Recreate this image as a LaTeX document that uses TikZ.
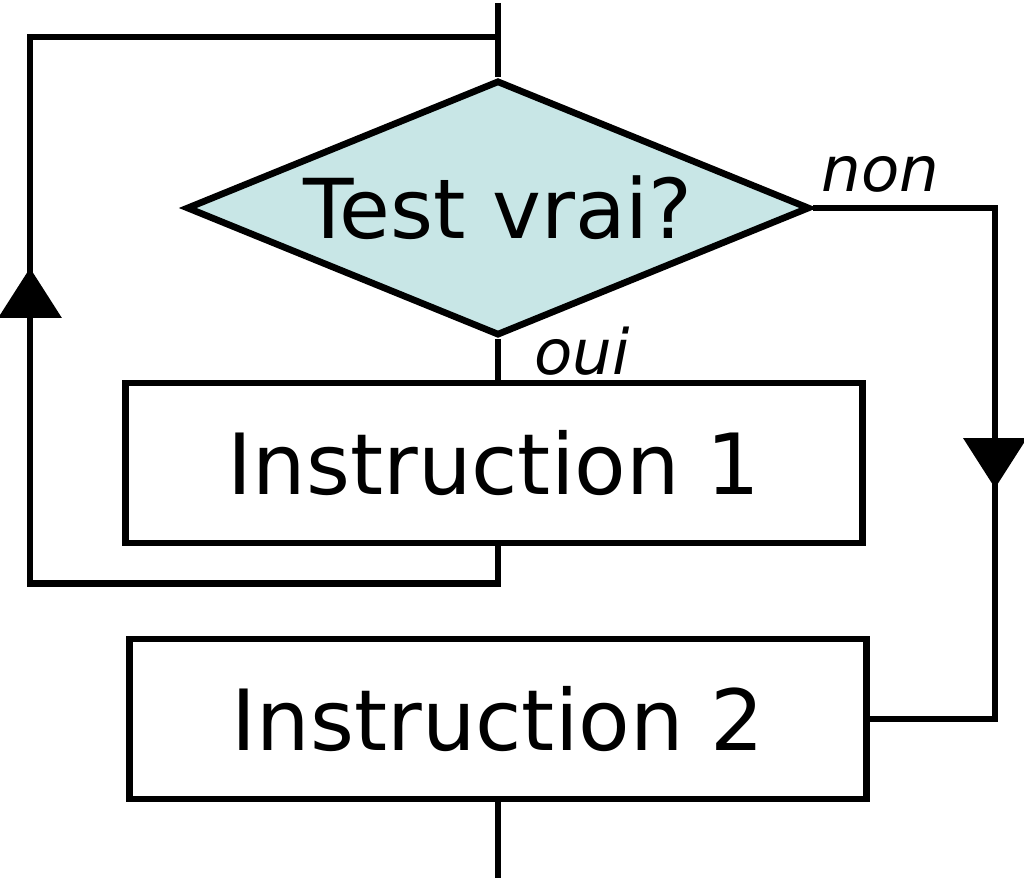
\documentclass[tikz,border=0pt]{standalone}
\usepackage{fontspec}
\setmainfont{DejaVu Sans}
\usetikzlibrary{arrows.meta,shapes.geometric,decorations.markings}
\definecolor{testfill}{RGB}{200,230,230}

\begin{document}
\begin{tikzpicture}[x=0.01cm,y=-0.01cm,line width=1.9pt,
  test node/.style={diamond,draw,fill=testfill,inner sep=0pt,shape aspect=2.44,
    minimum width=6.23cm,minimum height=2.55cm,font=\fontsize{23.5}{28}\selectfont},
  instr node/.style={rectangle,draw,inner sep=0pt,minimum width=7.36cm,
    minimum height=1.6cm,font=\fontsize{24}{29}\selectfont},
  label node/.style={inner sep=0pt,font=\fontsize{17.8}{21}\selectfont\itshape},
  mid arrow/.style={postaction={decorate},decoration={markings,
    mark=at position #1 with {\arrow{Triangle[width=0.62cm,length=0.5cm]}}}}]
  \useasboundingbox (0,0) rectangle (1024,883);

  \coordinate (in) at (498,3);
  \coordinate (join) at (498,37);
  \node[test node] (test) at (498,208) {Test vrai?};
  \node[instr node] (i1) at (494,463) {Instruction 1};
  \node[instr node] (i2) at (498,719) {Instruction 2};
  \coordinate (out) at (498,878);
  \node[label node,anchor=base west] (non) at (818,192) {non};
  \node[label node,anchor=base west] (oui) at (531,375) {oui};

  % oui branch and loop back
  \draw (in) -- (test.north);
  \draw (test.south) -- (test.south |- i1.north);
  \draw[mid arrow=8.20cm] (test.south |- i1.south) -- ++(0,37) -| (30,37) -- (join);
  % non branch
  \draw[mid arrow=4.62cm] (test.east) -- ++(182,0) |- (i2.east);
  \draw (i2.south) -- (out);
\end{tikzpicture}
\end{document}
